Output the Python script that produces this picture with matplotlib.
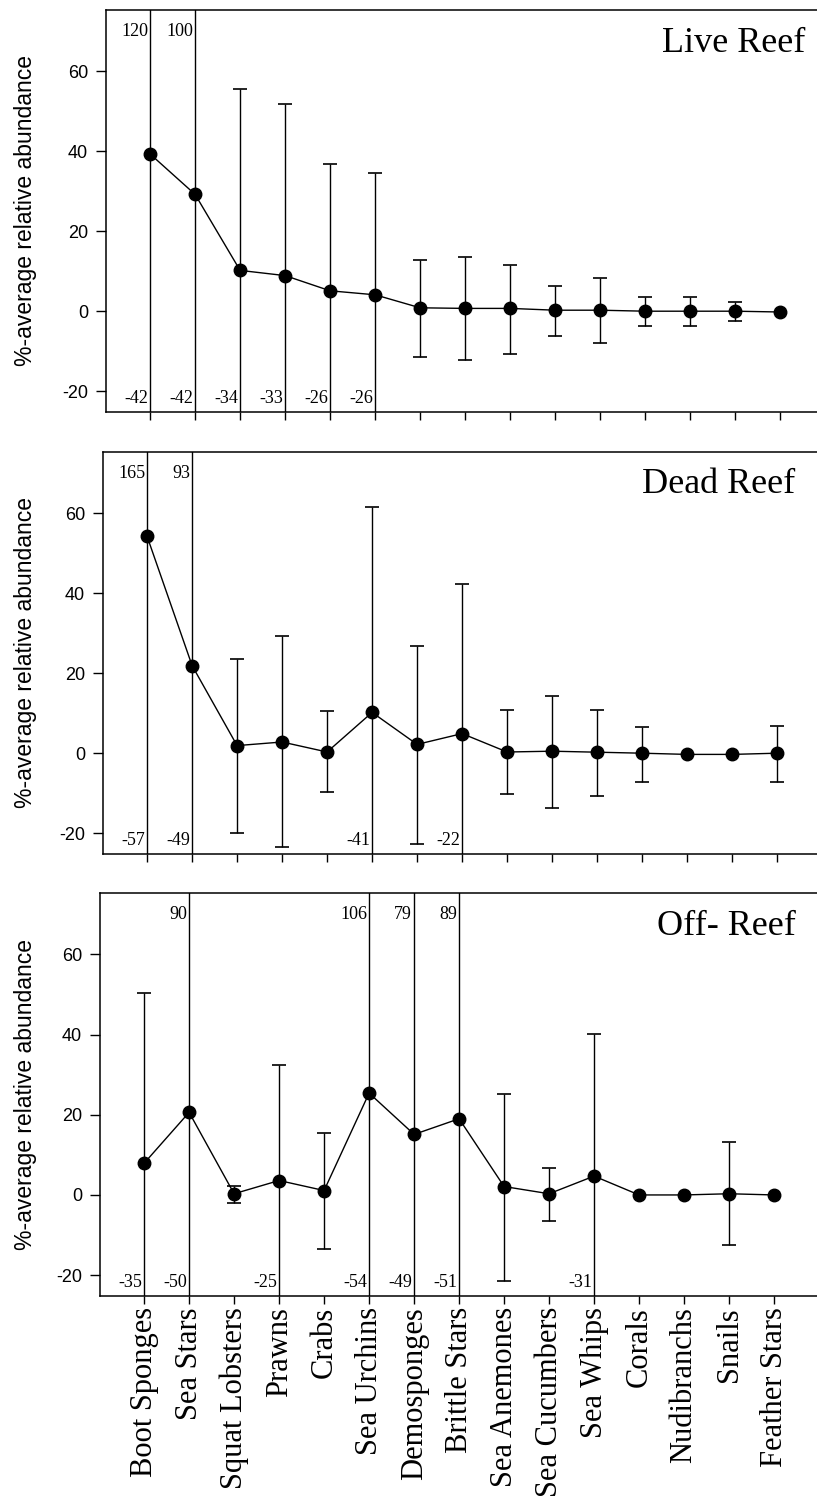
import numpy as np
import matplotlib
matplotlib.use("Agg")
import matplotlib.pyplot as plt

categories = ['Boot Sponges', 'Sea Stars', 'Squat Lobsters', 'Prawns', 'Crabs',
              'Sea Urchins', 'Demosponges', 'Brittle Stars', 'Sea Anemones',
              'Sea Cucumbers', 'Sea Whips', 'Corals', 'Nudibranchs', 'Snails',
              'Feather Stars']

panel_titles = ['Live Reef', 'Dead Reef', 'Off- Reef']

nan = np.nan
live_mean = [39.3, 29.2, 10.2, 8.9, 5.1, 4.1, 0.85, 0.7, 0.7, 0.25, 0.25, 0.0, 0.0, 0.0, -0.2]
live_upper = [120, 100, 55.5, 51.9, 36.8, 34.6, 12.9, 13.5, 11.6, 6.2, 8.2, 3.45, 3.45, 2.2, nan]
live_lower = [-42, -42, -34, -33, -26, -26, -11.4, -12.2, -10.7, -6.2, -7.9, -3.6, -3.6, -2.4, nan]
live_labelled_high = ['Boot Sponges', 'Sea Stars']
live_labelled_low = ['Boot Sponges', 'Sea Stars', 'Squat Lobsters', 'Prawns', 'Crabs', 'Sea Urchins']

dead_mean = [54.2, 21.9, 1.9, 2.8, 0.3, 10.2, 2.2, 4.9, 0.3, 0.5, 0.25, 0.0, -0.3, -0.3, 0.0]
dead_upper = [165, 93, 23.6, 29.2, 10.6, 61.6, 26.8, 42.3, 10.8, 14.4, 10.9, 6.6, nan, nan, 6.8]
dead_lower = [-57, -49, -19.9, -23.4, -9.8, -41, -22.6, -22, -10.3, -13.8, -10.6, -7.1, nan, nan, -7.3]
dead_labelled_high = ['Boot Sponges', 'Sea Stars']
dead_labelled_low = ['Boot Sponges', 'Sea Stars', 'Sea Urchins', 'Brittle Stars']

off_mean = [7.9, 20.6, 0.3, 3.6, 1.1, 25.4, 15.1, 19.0, 2.1, 0.3, 4.7, 0.0, 0.0, 0.3, 0.0]
off_upper = [50.4, 90, 2.2, 32.4, 15.4, 106, 79, 89, 25.2, 6.6, 40.1, nan, nan, 13.2, nan]
off_lower = [-35, -50, -1.9, -25, -13.5, -54, -49, -51, -21.5, -6.5, -31, nan, nan, -12.4, nan]
off_labelled_high = ['Sea Stars', 'Sea Urchins', 'Demosponges', 'Brittle Stars']
off_labelled_low = ['Boot Sponges', 'Sea Stars', 'Prawns', 'Sea Urchins', 'Demosponges',
                    'Brittle Stars', 'Sea Whips']

y_ticks = [-20, 0, 20, 40, 60]
y_label = '%-average relative abundance'

SANS = ['Liberation Sans', 'DejaVu Sans']
SERIF = ['Liberation Serif', 'DejaVu Serif']

W, H = 817, 1497
fig = plt.figure(figsize=(W / 100, H / 100), dpi=100)

# layout in pixels: left, top, bottom, title offsets
layout = [
    dict(left=106, top=10, bottom=412, title_dx=-12, title_dy=-42),
    dict(left=103, top=452, bottom=854, title_dx=-22, title_dy=-41),
    dict(left=100, top=893, bottom=1296, title_dx=-21, title_dy=-42),
]
panels = [
    (live_mean, live_upper, live_lower, live_labelled_high, live_labelled_low),
    (dead_mean, dead_upper, dead_lower, dead_labelled_high, dead_labelled_low),
    (off_mean, off_upper, off_lower, off_labelled_high, off_labelled_low),
]

YMIN, YMAX = -25.2, 75.3
SPACING = 45.0
XMIN = -0.98

for k, (lay, data, title) in enumerate(zip(layout, panels, panel_titles)):
    mean, upper, lower, lab_hi, lab_lo = data
    mean = np.asarray(mean, float)
    upper = np.asarray(upper, float)
    lower = np.asarray(lower, float)
    wpx = W - lay['left']
    hpx = lay['bottom'] - lay['top']
    ax = fig.add_axes([lay['left'] / W, (H - lay['bottom']) / H, wpx / W, hpx / H])
    x = np.arange(len(categories))
    ax.set_xlim(XMIN, XMIN + wpx / SPACING)
    ax.set_ylim(YMIN, YMAX)

    for i, cat in enumerate(categories):
        if np.isnan(upper[i]):
            continue
        hi_lab = cat in lab_hi
        lo_lab = cat in lab_lo
        top = max(upper[i], YMAX + 5) if hi_lab else upper[i]
        bot = min(lower[i], YMIN - 5) if lo_lab else lower[i]
        ax.vlines(x[i], bot, top, color='black', lw=1.0, zorder=2)
        if not hi_lab:
            ax.plot(x[i], upper[i], marker='_', ms=10, mew=1.2, color='black', zorder=2)
        else:
            ax.annotate(f'{upper[i]:g}', xy=(x[i], 1), xycoords=('data', 'axes fraction'),
                        xytext=(-2, -21.5), textcoords='offset pixels',
                        ha='right', va='center', fontsize=13, family=SERIF)
        if not lo_lab:
            ax.plot(x[i], lower[i], marker='_', ms=10, mew=1.2, color='black', zorder=2)
        else:
            ax.annotate(f'{lower[i]:g}', xy=(x[i], 0), xycoords=('data', 'axes fraction'),
                        xytext=(-2, 13.5), textcoords='offset pixels',
                        ha='right', va='center', fontsize=13, family=SERIF)

    ax.plot(x, mean, '-', color='black', lw=1.0, zorder=3)
    ax.plot(x, mean, 'o', color='black', ms=9, zorder=4)

    ax.spines['right'].set_visible(False)
    for s in ('left', 'top', 'bottom'):
        ax.spines[s].set_linewidth(1.1)

    ax.set_yticks(y_ticks)
    ax.set_yticklabels([str(v) for v in y_ticks], family=SANS, fontsize=13)
    ax.tick_params(axis='y', direction='out', length=7, width=1, pad=6)
    ax.set_xticks(x)
    ax.tick_params(axis='x', direction='out', length=6, width=1, pad=2)
    if k == 2:
        ax.set_xticklabels(categories, rotation=90, family=SERIF, fontsize=22)
    else:
        ax.set_xticklabels([])

    ax.set_ylabel(y_label, family=SANS, fontsize=16.5)
    ax.yaxis.set_label_coords((37 - lay['left']) / wpx, 0.5)

    ax.annotate(title, xy=(1, 1), xycoords='axes fraction',
                xytext=(lay['title_dx'], lay['title_dy']), textcoords='offset pixels',
                ha='right', va='baseline', fontsize=26, family=SERIF)

fig.savefig('out.png', dpi=100)
